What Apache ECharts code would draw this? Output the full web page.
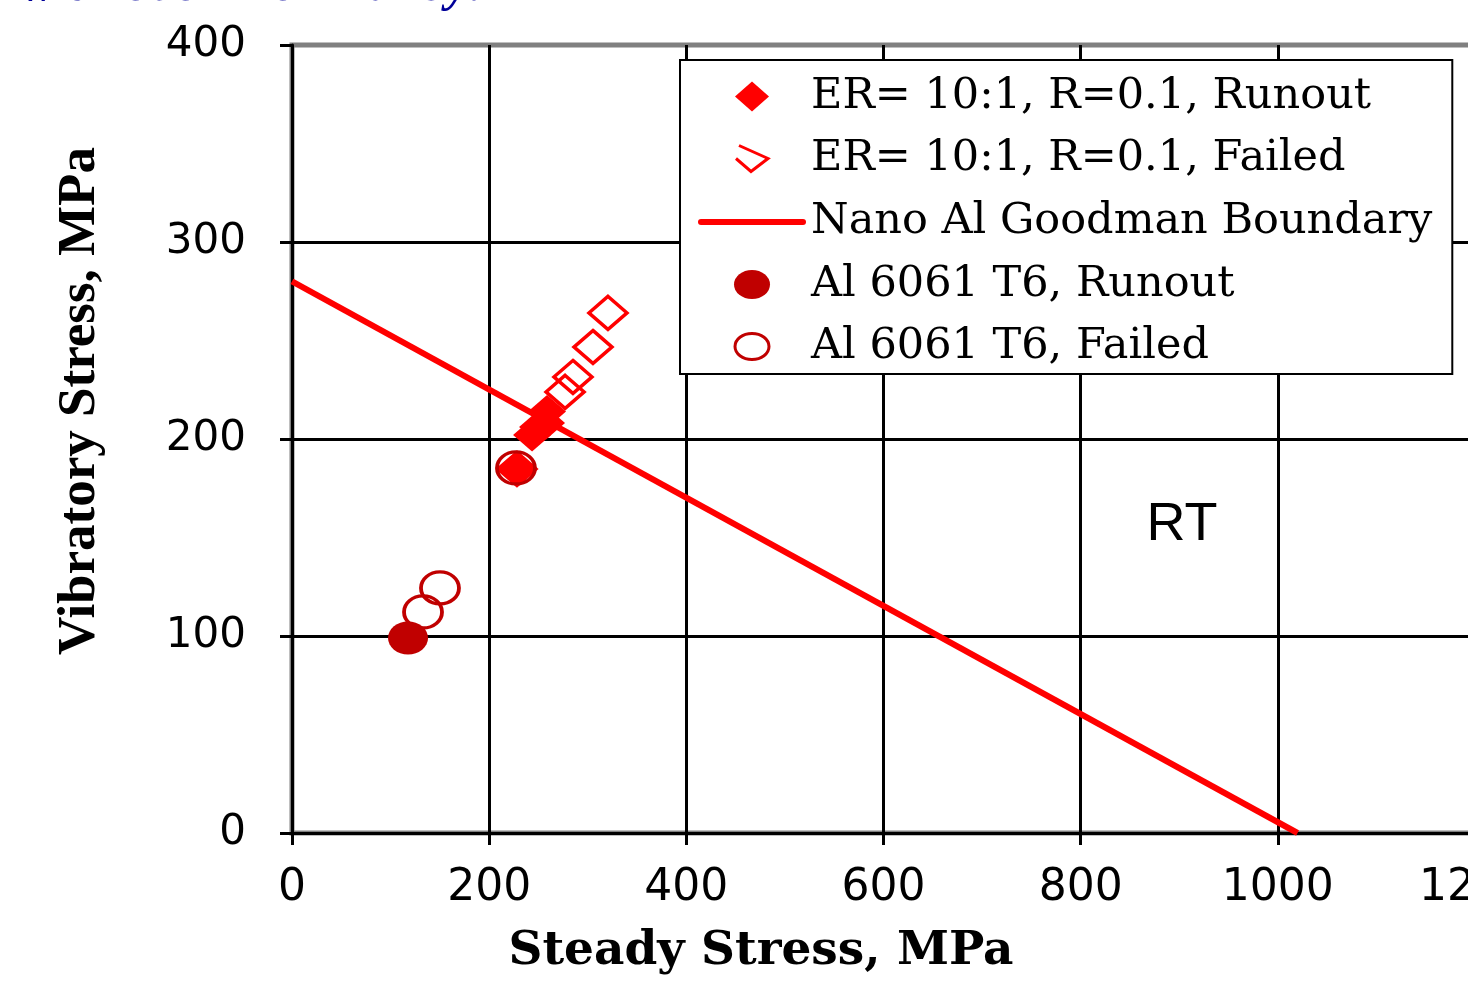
<!DOCTYPE html>
<html><head><meta charset="utf-8">
<script src="https://cdn.jsdelivr.net/npm/echarts@6/dist/echarts.min.js"></script>
<style>html,body{margin:0;padding:0;background:#fff;overflow:hidden}#c{width:1468px;height:987px}</style>
</head><body><div id="c"></div>
<script>
// ---- data ----
const xTicks = [0, 200, 400, 600, 800, 1000, 1200];
const yTicks = [0, 100, 200, 300, 400];
const nanoRunoutX = [243.5, 249.6, 257.7, 258.7, 228.2];
const nanoRunoutY = [202.0, 206.1, 208.1, 213.9, 184.8];
const nanoFailedX = [228.2, 277.0, 285.0, 305.3, 320.5];
const nanoFailedY = [184.8, 223.9, 231.5, 246.7, 264.0];
const goodmanX = [0, 1020];
const goodmanY = [280, 0];
const al6061RunoutX = [117.7];
const al6061RunoutY = [99.0];
const al6061FailedX = [132.9, 150.1, 227.2];
const al6061FailedY = [112.2, 124.4, 185.3];
const seriesNames = ['ER= 10:1, R=0.1, Runout', 'ER= 10:1, R=0.1, Failed', 'Nano Al Goodman Boundary', 'Al 6061 T6, Runout', 'Al 6061 T6, Failed'];
const xTitle = 'Steady Stress, MPa';
const yTitle = 'Vibratory Stress, MPa';
const panelLabel = 'RT';
const slideTitle = 'Comparison with 6061-T6 Al alloy:';

const pairs = (xs, ys) => xs.map((x, i) => [x, ys[i]]);
const RED = '#ff0000', DARK = '#c00000';
const ELLIPSE = 'path://M0,10 A10,10 0 1,0 20,10 A10,10 0 1,0 0,10 Z';
const BOX = 'M0,0 M108,40 ';
const chart = echarts.init(document.getElementById('c'), null, {renderer: 'canvas'});
chart.setOption({
  animation: false,
  backgroundColor: '#fff',
  grid: {left: 292, top: 45, width: 1183, height: 788, outerBoundsMode: 'none', containLabel: false, show: true, borderColor: '#808080', borderWidth: 5, backgroundColor: 'transparent'},
  xAxis: {
    type: 'value', min: xTicks[0], max: xTicks[xTicks.length - 1], interval: xTicks[1] - xTicks[0],
    axisLine: {show: true, lineStyle: {color: '#000', width: 3}},
    axisTick: {show: true, inside: false, length: 12, lineStyle: {color: '#000', width: 3}},
    splitLine: {show: true, lineStyle: {color: '#000', width: 3}},
    axisLabel: {color: '#000', fontFamily: 'DejaVu Sans', fontSize: 44, margin: 34, showMaxLabel: true, formatter: v => String(v)},
    name: xTitle, nameLocation: 'middle', nameGap: 95,
    nameTextStyle: {fontFamily: 'DejaVu Serif', fontWeight: 'bold', fontSize: 47, color: '#000', padding: [0, 245, 0, 0]}
  },
  yAxis: {
    type: 'value', min: yTicks[0], max: yTicks[yTicks.length - 1], interval: yTicks[1] - yTicks[0],
    axisLine: {show: true, lineStyle: {color: '#000', width: 3}},
    axisTick: {show: true, inside: false, length: 12, lineStyle: {color: '#000', width: 3}},
    splitLine: {show: true, showMaxLine: false, lineStyle: {color: '#000', width: 3}},
    axisLabel: {color: '#000', fontFamily: 'DejaVu Sans', fontSize: 42, margin: 46, formatter: v => String(v)},
    name: yTitle, nameLocation: 'middle', nameGap: 185, nameRotate: 90,
    nameTextStyle: {fontFamily: 'Liberation Serif', fontWeight: 'bold', fontSize: 53, color: '#000', padding: [0, 0, 0, 76]}
  },
  legend: {
    orient: 'vertical', left: 680, top: 60, padding: [15, 20, 5, 15],
    itemWidth: 108, itemHeight: 40, itemGap: 18,
    borderColor: '#000', borderWidth: 2, backgroundColor: '#fff',
    textStyle: {fontFamily: 'DejaVu Serif', fontSize: 43, color: '#000', lineHeight: 40},
    data: [
      {name: seriesNames[0], icon: 'path://' + BOX + 'M54,5 L71,20 L54,35 L37,20 Z', itemStyle: {color: RED, borderWidth: 0, opacity: 1}},
      {name: seriesNames[1], icon: 'path://' + BOX + 'M41,7 L70,20 L53,33 L38,20', itemStyle: {color: 'none', borderColor: RED, borderWidth: 3, opacity: 1}},
      {name: seriesNames[2], icon: 'path://' + BOX + 'M3,20 L105,20', itemStyle: {color: 'none', borderColor: RED, borderWidth: 6, borderCap: 'round', opacity: 1}},
      {name: seriesNames[3], icon: 'path://' + BOX + 'M36,20 A18,14.5 0 1,0 72,20 A18,14.5 0 1,0 36,20 Z', itemStyle: {color: DARK, borderWidth: 0, opacity: 1}},
      {name: seriesNames[4], icon: 'path://' + BOX + 'M37,20 A17,13 0 1,0 71,20 A17,13 0 1,0 37,20 Z', itemStyle: {color: 'none', borderColor: DARK, borderWidth: 3, opacity: 1}}
    ]
  },
  series: [
    {name: seriesNames[0], type: 'scatter', symbol: 'diamond', symbolSize: [38, 33], itemStyle: {color: RED, opacity: 1}, data: pairs(nanoRunoutX, nanoRunoutY), z: 3},
    {name: seriesNames[1], type: 'scatter', symbol: 'diamond', symbolSize: [38, 33], itemStyle: {color: 'rgba(0,0,0,0)', borderColor: RED, borderWidth: 3.5, opacity: 1}, data: pairs(nanoFailedX, nanoFailedY), z: 3},
    {name: seriesNames[2], type: 'line', symbol: 'none', lineStyle: {color: RED, width: 6}, itemStyle: {color: RED}, data: pairs(goodmanX, goodmanY), z: 2},
    {name: seriesNames[3], type: 'scatter', symbol: ELLIPSE, symbolSize: [40, 33], itemStyle: {color: DARK, opacity: 1}, data: pairs(al6061RunoutX, al6061RunoutY), z: 3},
    {name: seriesNames[4], type: 'scatter', symbol: ELLIPSE, symbolSize: [38, 32], itemStyle: {color: 'rgba(0,0,0,0)', borderColor: DARK, borderWidth: 3.5, opacity: 1}, data: pairs(al6061FailedX, al6061FailedY), z: 3}
  ],
  graphic: [
    {type: 'text', x: 1182, y: 525, style: {text: panelLabel, font: '54px "Liberation Sans"', fill: '#000', align: 'center', verticalAlign: 'middle'}},
    {type: 'text', x: 485, y: -13, style: {text: slideTitle, font: 'italic bold 50px "Liberation Serif"', fill: '#000099', align: 'right', verticalAlign: 'middle'}}
  ]
});
</script></body></html>
